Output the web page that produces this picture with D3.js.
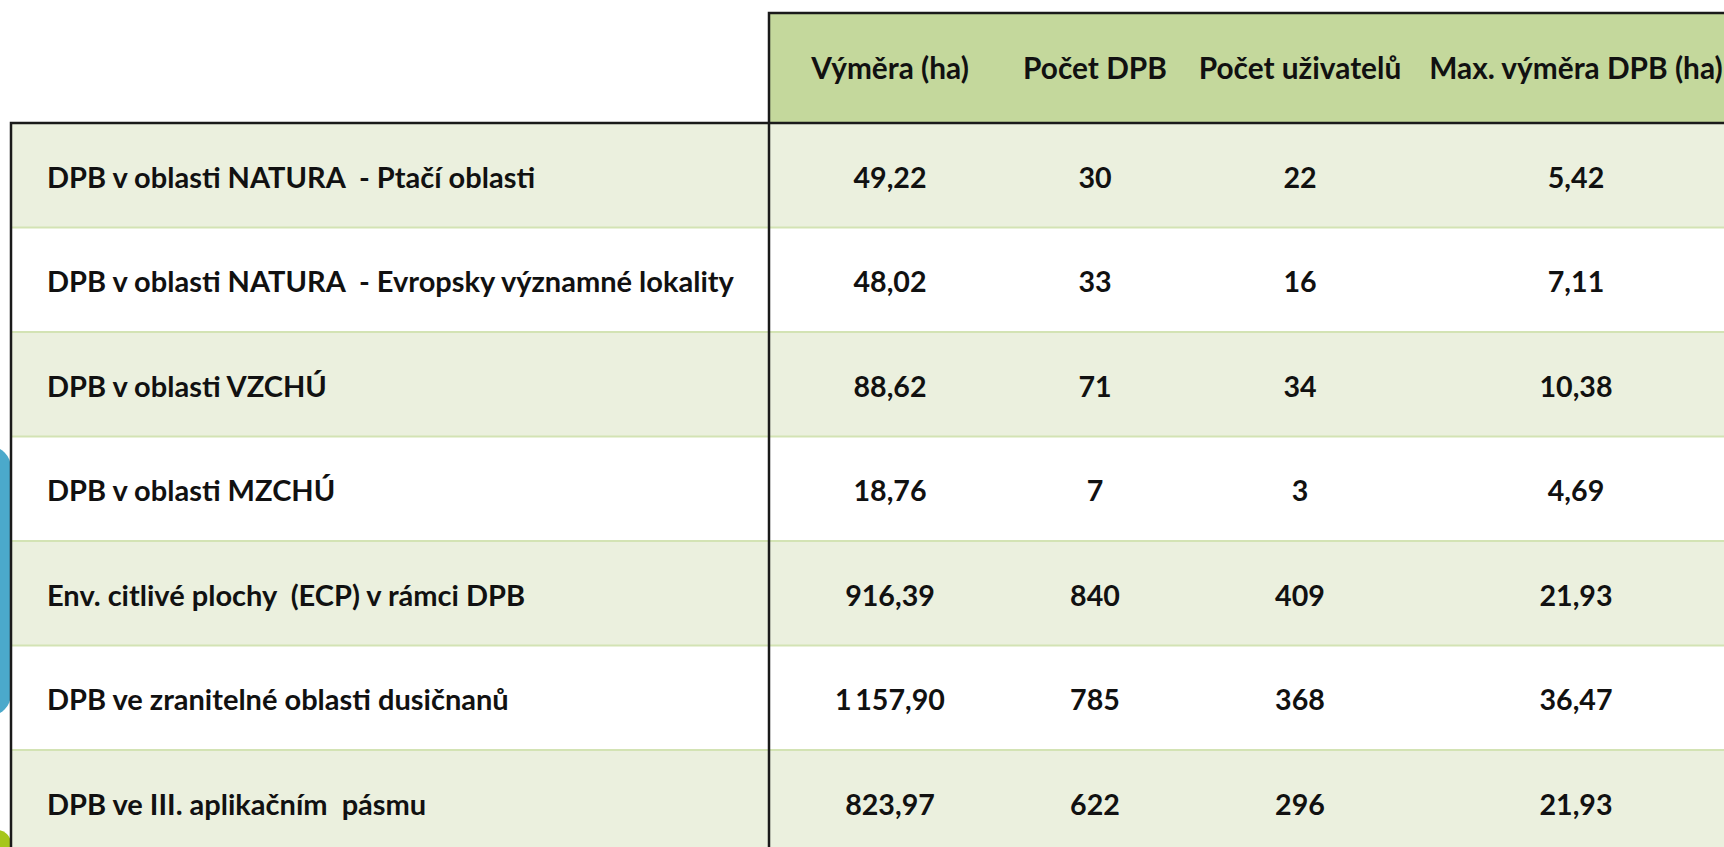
<!DOCTYPE html>
<html>
<head>
<meta charset="utf-8">
<script src="https://cdn.jsdelivr.net/npm/d3@7"></script>
<style>
  html, body { margin:0; padding:0; background:#fff; overflow:hidden; }
  svg text { font-family: Lato, "Open Sans", "DejaVu Sans", sans-serif; font-weight:700; fill:#111; }
</style>
</head>
<body>
<div class="table-container"></div>
<script>
var rowLabels = [
	'DPB v oblasti NATURA  - Ptačí oblasti',
	'DPB v oblasti NATURA  - Evropsky významné lokality',
	'DPB v oblasti VZCHÚ',
	'DPB v oblasti MZCHÚ',
	'Env. citlivé plochy  (ECP) v rámci DPB',
	'DPB ve zranitelné oblasti dusičnanů',
	'DPB ve III. aplikačním  pásmu'
];
var columnHeaders = ['Výměra (ha)', 'Počet DPB', 'Počet uživatelů', 'Max. výměra DPB (ha)'];
var vymera = [49.22, 48.02, 88.62, 18.76, 916.39, 1157.90, 823.97];
var pocetDpb = [30, 33, 71, 7, 840, 785, 622];
var pocetUzivatelu = [22, 16, 34, 3, 409, 368, 296];
var maxVymera = [5.42, 7.11, 10.38, 4.69, 21.93, 36.47, 21.93];

function drawTable(){
	var svgWidth = 1724;
	var svgHeight = 847;
	var headTop = 13, headBottom = 123, rowH = 104.5;
	var labelLeft = 11, labelRight = 769;
	var colWidths = [242, 168, 242, 310];
	var headSize = 29.8, labelSize = 29, cellSize = 28.6;

	var cz = d3.formatLocale({decimal:',', thousands:'\u2009', grouping:[3], currency:['','']});
	var fmtDec = cz.format(',.2f'), fmtInt = cz.format(',d');

	var columns = [
		{key:'vymera', values:vymera, fmt:fmtDec},
		{key:'pocetDpb', values:pocetDpb, fmt:fmtInt},
		{key:'pocetUzivatelu', values:pocetUzivatelu, fmt:fmtInt},
		{key:'maxVymera', values:maxVymera, fmt:fmtDec}
	];

	var edges = [labelRight].concat(Array.from(d3.cumsum(colWidths), function(w){ return labelRight + w; }));
	var x = d3.scaleOrdinal().domain(columns.map(function(c){ return c.key; })).range(edges.slice(0, -1));
	var xw = d3.scaleOrdinal().domain(columns.map(function(c){ return c.key; })).range(colWidths);
	var y = d3.scaleBand().domain(d3.range(rowLabels.length)).range([headBottom, headBottom + rowH*rowLabels.length]);

	var svg = d3.select('.table-container').append('svg').attr('width', svgWidth).attr('height', svgHeight);

	// decoration shapes peeking out at the left edge
	svg.append('rect').attr('x',-40).attr('y',446).attr('width',51).attr('height',270).attr('rx',22).attr('fill','#4ba9cb');
	svg.append('rect').attr('x',-30).attr('y',830).attr('width',41).attr('height',60).attr('rx',14).attr('fill','#a6c61c');

	// header
	svg.append('rect').attr('x',labelRight).attr('y',headTop).attr('width',svgWidth-labelRight+20).attr('height',headBottom-headTop).attr('fill','#c4d89c');

	// row fills
	svg.append('g').selectAll('rect').data(rowLabels).enter().append('rect')
		.attr('x',labelLeft).attr('y',function(d,i){ return y(i);})
		.attr('width',svgWidth-labelLeft+20).attr('height',y.bandwidth())
		.attr('fill',function(d,i){ return i%2==0 ? '#ebf0de' : '#ffffff';});

	// row separators
	svg.append('g').selectAll('line').data(d3.range(1, rowLabels.length)).enter().append('line')
		.attr('x1',labelLeft).attr('x2',svgWidth)
		.attr('y1',function(i){ return y(i);}).attr('y2',function(i){ return y(i);})
		.attr('stroke','#d3e3b4').attr('stroke-width',2);

	// borders
	var borders = svg.append('g').attr('stroke','#1a1a1a').attr('stroke-width',2.5).attr('fill','none');
	borders.append('path').attr('d', d3.line()([[labelRight, svgHeight], [labelRight, headTop], [svgWidth, headTop]]));
	borders.append('path').attr('d', d3.line()([[labelLeft, svgHeight], [labelLeft, headBottom], [svgWidth, headBottom]]));

	// header text
	svg.append('g').selectAll('text').data(columns).enter().append('text')
		.attr('x',function(d){ return x(d.key) + xw(d.key)/2;})
		.attr('y',(headTop+headBottom)/2)
		.attr('dy','0.36em').attr('text-anchor','middle').attr('font-size',headSize)
		.text(function(d,i){ return columnHeaders[i];});

	// row labels
	svg.append('g').selectAll('text').data(rowLabels).enter().append('text')
		.attr('x',labelLeft+36).attr('y',function(d,i){ return y(i) + y.bandwidth()/2 + 2;})
		.attr('dy','0.36em').attr('font-size',labelSize)
		.attr('xml:space','preserve').style('white-space','pre')
		.text(function(d){ return d;});

	// cells
	var cells = [];
	columns.forEach(function(c){
		c.values.forEach(function(v,i){ cells.push({key:c.key, row:i, text:c.fmt(v)}); });
	});
	svg.append('g').selectAll('text').data(cells).enter().append('text')
		.attr('x',function(d){ return x(d.key) + xw(d.key)/2;})
		.attr('y',function(d){ return y(d.row) + y.bandwidth()/2 + 2;})
		.attr('dy','0.36em').attr('text-anchor','middle').attr('font-size',cellSize)
		.text(function(d){ return d.text;});
}
drawTable();
</script>
</body>
</html>
